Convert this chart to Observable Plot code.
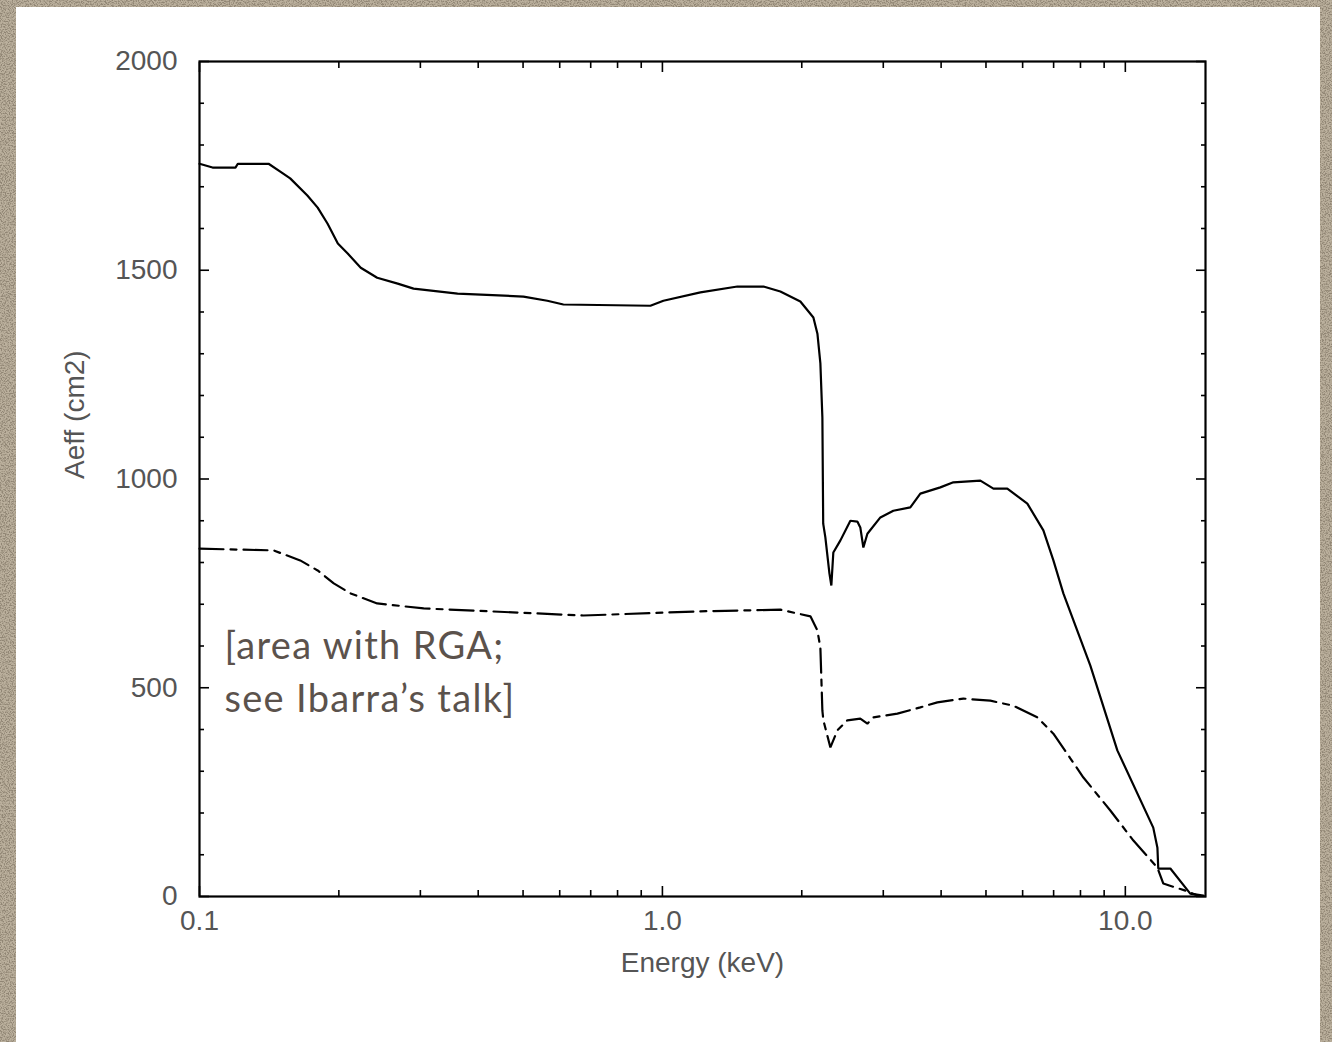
<!DOCTYPE html>
<html>
<head>
<meta charset="utf-8">
<script src="https://cdn.jsdelivr.net/npm/d3@7"></script>
<script src="https://cdn.jsdelivr.net/npm/@observablehq/plot@0.6"></script>
<style>
  html, body { margin: 0; padding: 0; }
  body {
    width: 1332px; height: 1042px; overflow: hidden; position: relative;
    background-color: #b7ac98;
  }
  #paper { position: absolute; left: 0; top: 0; }
  #card {
    position: absolute; left: 16px; top: 7px; width: 1304px; height: 1040px;
    background: #ffffff;
  }
  #card svg { display: block; }
</style>
</head>
<body>
<!-- speckled paper behind the card -->
<svg id="paper" width="1332" height="1042" xmlns="http://www.w3.org/2000/svg">
  <filter id="grain" x="0" y="0" width="100%" height="100%" color-interpolation-filters="sRGB">
    <feTurbulence type="fractalNoise" baseFrequency="0.75" numOctaves="3" seed="7"/>
    <feColorMatrix values="0 0 0 0 0.30  0 0 0 0 0.26  0 0 0 0 0.20  -4 0 0 0 2.3"/>
  </filter>
  <rect width="1332" height="1042" fill="#bbb09d"/>
  <rect width="1332" height="1042" filter="url(#grain)" opacity="0.38"/>
</svg>
<div id="card"></div>
<script>
// Effective area versus photon energy: full telescope (solid) and
// the share left after the RGA gratings (dash-dot).
const energyTotal = [0.100, 0.1067, 0.1196, 0.121, 0.141, 0.150, 0.157, 0.171, 0.180, 0.189,
  0.199, 0.209, 0.223, 0.242, 0.268, 0.290, 0.361, 0.501, 0.564, 0.611,
  0.942, 1.005, 1.208, 1.452, 1.653, 1.798, 1.986, 2.119, 2.162, 2.194,
  2.216, 2.225, 2.249, 2.295, 2.317, 2.340, 2.424, 2.547, 2.637, 2.676,
  2.717, 2.772, 2.957, 3.154, 3.432, 3.607, 3.984, 4.251, 4.863, 5.188,
  5.560, 6.142, 6.652, 6.992, 7.347, 8.403, 9.61, 11.49, 11.73, 11.78,
  12.51, 13.81, 14.74];
const aeffTotal = [1755, 1746, 1746, 1755, 1755, 1735, 1720, 1679, 1650, 1612,
  1564, 1540, 1506, 1482, 1468, 1456, 1444, 1437, 1427, 1418,
  1415, 1427, 1447, 1461, 1461, 1449, 1425, 1387, 1348, 1277,
  1147, 893, 860, 774, 745, 824, 853, 900, 898, 884,
  836, 869, 908, 924, 932, 965, 980, 992, 996, 977,
  977, 941, 877, 805, 726, 553, 350, 165, 117, 67,
  67, 7, 2];

const energyRga = [0.100, 0.1445, 0.165, 0.180, 0.195, 0.212, 0.242, 0.305, 0.425, 0.675,
  1.208, 1.798, 2.088, 2.162, 2.194, 2.216, 2.227, 2.306, 2.388, 2.509,
  2.676, 2.772, 2.856, 3.218, 3.607, 3.926, 4.468, 5.109, 5.730, 6.457,
  6.992, 7.605, 8.118, 9.281, 10.41, 11.73, 12.08, 13.48, 14.38];
const aeffRga = [833, 829, 805, 781, 750, 726, 702, 690, 683, 673,
  683, 687, 671, 637, 596, 445, 422, 357, 398, 422,
  426, 414, 429, 438, 453, 465, 474, 469, 457, 429,
  390, 331, 285, 206, 134, 69, 31, 14, 2];

// Axis ticks
const xMajorTicks = [0.1, 1, 10];
const xMinorTicks = [0.2, 0.3, 0.4, 0.5, 0.6, 0.7, 0.8, 0.9, 2, 3, 4, 5, 6, 7, 8, 9];
const yMajorTicks = [0, 500, 1000, 1500, 2000];
const yMinorTicks = [100, 200, 300, 400, 600, 700, 800, 900, 1100, 1200, 1300, 1400,
  1600, 1700, 1800, 1900];

const xLabel = "Energy (keV)";
const yLabel = "Aeff (cm2)";
const note = "[area with RGA;\nsee Ibarra\u2019s talk]";

const tickStroke = {stroke: "#000", strokeWidth: 1.6};
const blank = () => "";

const chart = Plot.plot({
  width: 1304,
  height: 1000,
  marginLeft: 183,
  marginRight: 115,
  marginTop: 54,
  marginBottom: 111,
  style: {
    fontFamily: "'Liberation Sans', Arial, Helvetica, sans-serif",
    fontSize: "28px",
    color: "#555",
    background: "transparent",
    overflow: "visible"
  },
  x: {type: "log", domain: [0.1, 14.9]},
  y: {domain: [0, 2000]},
  marks: [
    // tick labels
    Plot.axisX(xMajorTicks, {anchor: "bottom", tickSize: 0, tickPadding: 14,
      tickFormat: d => d.toFixed(1), label: null, fill: "#555"}),
    Plot.axisY(yMajorTicks, {anchor: "left", tickSize: 0, tickPadding: 22,
      tickFormat: d => String(d), label: null, fill: "#555"}),
    // inward tick marks on all four sides
    Plot.axisX(xMajorTicks, {anchor: "bottom", tickSize: -10, tickFormat: blank, label: null, ...tickStroke}),
    Plot.axisX(xMinorTicks, {anchor: "bottom", tickSize: -6, tickFormat: blank, label: null, ...tickStroke}),
    Plot.axisX(xMajorTicks, {anchor: "top", tickSize: -10, tickFormat: blank, label: null, ...tickStroke}),
    Plot.axisX(xMinorTicks, {anchor: "top", tickSize: -6, tickFormat: blank, label: null, ...tickStroke}),
    Plot.axisY(yMajorTicks, {anchor: "left", tickSize: -10, tickFormat: blank, label: null, ...tickStroke}),
    Plot.axisY(yMinorTicks, {anchor: "left", tickSize: -5, tickFormat: blank, label: null, ...tickStroke}),
    Plot.axisY(yMajorTicks, {anchor: "right", tickSize: -10, tickFormat: blank, label: null, ...tickStroke}),
    Plot.axisY(yMinorTicks, {anchor: "right", tickSize: -5, tickFormat: blank, label: null, ...tickStroke}),
    // axis titles
    Plot.text([xLabel], {frameAnchor: "bottom", dy: 67, lineAnchor: "middle", fill: "#555"}),
    Plot.text([yLabel], {frameAnchor: "left", dx: -124, rotate: -90, lineAnchor: "middle", fill: "#555"}),
    // curves
    Plot.line(energyRga, {x: energyRga, y: aeffRga, stroke: "#000", strokeWidth: 2.2,
      strokeDasharray: "24,7,6,7", strokeLinejoin: "miter"}),
    Plot.line(energyTotal, {x: energyTotal, y: aeffTotal, stroke: "#000", strokeWidth: 2.2,
      strokeLinejoin: "miter"}),
    Plot.frame({stroke: "#000", strokeWidth: 2.2}),
    // annotation
    Plot.text([note], {frameAnchor: "top-left", dx: 25, dy: 561, textAnchor: "start",
      lineAnchor: "top", lineHeight: 1.37, fontSize: 38, fontFamily: "Lato, 'Open Sans', sans-serif",
      fill: "#5b524c"})
  ]
});

// open up the annotation's letter spacing a little
d3.select(chart).selectAll("text")
  .filter(function () { return this.textContent.includes("RGA"); })
  .style("letter-spacing", "1.3px");

document.getElementById("card").appendChild(chart);
</script>
</body>
</html>
